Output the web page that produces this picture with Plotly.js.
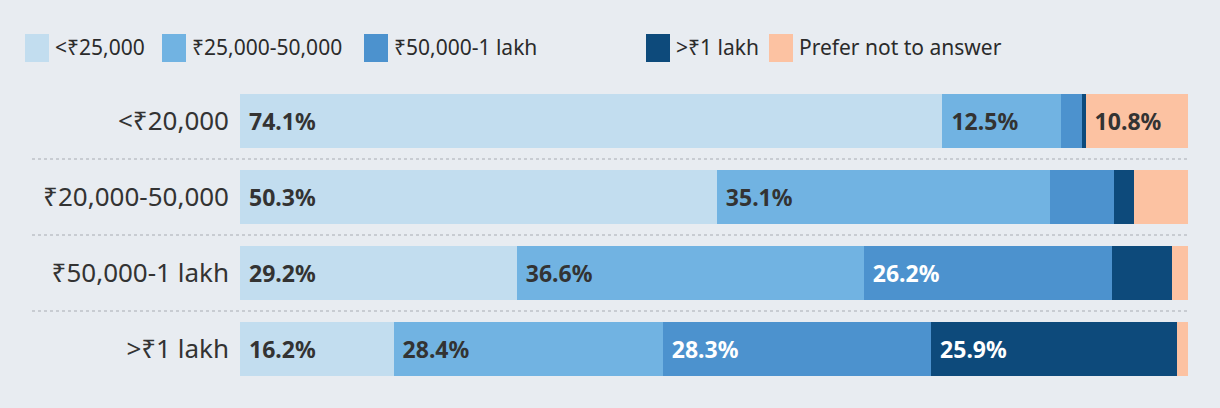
<!DOCTYPE html>
<html>
<head>
<meta charset="utf-8">
<script src="https://cdn.plot.ly/plotly-3.0.1.min.js"></script>
<style>
  html, body { margin: 0; padding: 0; background: #e8ecf1; }
  #chart { width: 1220px; height: 408px; }
</style>
</head>
<body>
<div id="chart"></div>
<script>
// ---- data ----
const categories = ["<₹20,000", "₹20,000-50,000", "₹50,000-1 lakh", ">₹1 lakh"];
const seriesNames = ["<₹25,000", "₹25,000-50,000", "₹50,000-1 lakh", ">₹1 lakh", "Prefer not to answer"];
const under25k    = [74.1, 50.3, 29.2, 16.2];
const from25to50k = [12.5, 35.1, 36.6, 28.4];
const from50kto1L = [2.2, 6.8, 26.2, 28.3];
const over1L      = [0.4, 2.1, 6.3, 25.9];
const preferNot   = [10.8, 5.7, 1.7, 1.2];

const seriesValues = [under25k, from25to50k, from50kto1L, over1L, preferNot];
const colors = ["#c2ddef", "#71b3e2", "#4c92ce", "#0d4a7b", "#fcc2a2"];
const textColors = ["#333333", "#333333", "#ffffff", "#ffffff", "#333333"];

// ---- layout geometry (pixels) ----
const W = 1220, H = 408;
const mL = 240, mR = 32, mT = 83, mB = 21;
const plotW = W - mL - mR, plotH = H - mT - mB;
const pxX = px => (px - mL) / plotW;
const pxY = py => (H - mB - py) / plotH;

const labelFont = "'Noto Sans', 'Open Sans', sans-serif";
const tickFont = "'Noto Sans', 'DejaVu Sans', sans-serif";

const traces = seriesValues.map((vals, i) => ({
  type: "bar",
  orientation: "h",
  name: seriesNames[i],
  y: categories,
  x: vals,
  marker: { color: colors[i], line: { width: 0 } },
  text: vals.map(v => v >= 10 ? "\u00A0" + v.toFixed(1) + "%" : ""),
  textposition: "inside",
  insidetextanchor: "start",
  textangle: 0,
  insidetextfont: { family: labelFont, size: 23, color: textColors[i], weight: 700 },
  hoverinfo: "skip",
  showlegend: false
}));

// custom legend (large squares)
const legendSquareX = [25, 162, 364, 646, 769];
const shapes = [];
const annotations = [];
seriesNames.forEach((n, i) => {
  shapes.push({
    type: "rect", xref: "paper", yref: "paper",
    x0: pxX(legendSquareX[i]), x1: pxX(legendSquareX[i] + 24),
    y0: pxY(62), y1: pxY(34),
    fillcolor: colors[i], line: { width: 0 }
  });
  annotations.push({
    xref: "paper", yref: "paper",
    x: pxX(legendSquareX[i] + 28), y: pxY(47),
    xanchor: "left", yanchor: "middle",
    text: n, showarrow: false,
    font: { family: tickFont, size: 21, color: "#2b2b2b" }
  });
});

// dotted separators between rows
for (let k = 0; k < categories.length - 1; k++) {
  shapes.push({
    type: "line", xref: "paper", yref: "y",
    x0: pxX(32), x1: 1, y0: k + 0.5, y1: k + 0.5,
    line: { color: "#c8ccd2", width: 2, dash: "dot" }
  });
}

const layout = {
  width: W, height: H,
  margin: { l: mL, r: mR, t: mT, b: mB, pad: 0 },
  paper_bgcolor: "#e8ecf1",
  plot_bgcolor: "#e8ecf1",
  barmode: "stack",
  bargap: 0.29,
  showlegend: false,
  xaxis: { range: [0, 100], visible: false, fixedrange: true },
  yaxis: {
    autorange: "reversed",
    showgrid: false, zeroline: false, showline: false,
    ticks: "", ticklabelstandoff: 10,
    tickfont: { family: tickFont, size: 26, color: "#333333" },
    fixedrange: true
  },
  shapes: shapes,
  annotations: annotations,
  font: { family: tickFont }
};

Plotly.newPlot("chart", traces, layout, { displayModeBar: false, staticPlot: true });
</script>
</body>
</html>
